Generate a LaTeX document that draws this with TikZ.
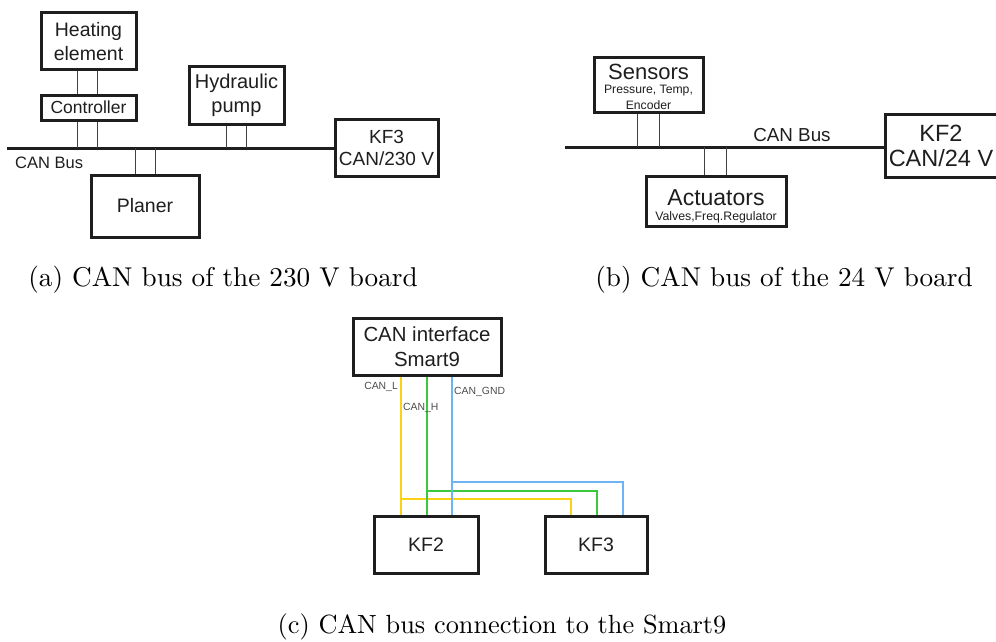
\documentclass[tikz,border=0pt]{standalone}
\usepackage{fontspec}
\usepackage{graphicx}
\newfontfamily\hv{Liberation Sans}
\newcommand\setfs[2]{\fontsize{#1}{#2}\selectfont}
\newcommand\captext[2][2.72]{\scalebox{#1}{\setfs{10}{12}#2}}
\definecolor{canyellow}{RGB}{250,212,20}
\definecolor{cangreen}{RGB}{60,200,60}
\definecolor{canblue}{RGB}{110,180,245}
\definecolor{ink}{RGB}{30,30,30}
\tikzset{
  box/.style={draw=ink, line width=3pt, inner sep=0pt, align=center, text=ink, font=\hv},
  lbl/.style={inner sep=0pt, text=ink, font=\hv},
  wire/.style={line width=0.9pt, draw=black!75},
  busline/.style={line width=3pt, draw=ink},
  canl/.style={line width=1.2pt, draw=canyellow},
  canh/.style={line width=1.2pt, draw=cangreen},
  cangnd/.style={line width=1.2pt, draw=canblue},
  sig/.style={inner sep=0pt, text=black!70, font=\hv\setfs{10.4}{12}},
  caption/.style={inner sep=0pt}
}
\begin{document}
\begin{tikzpicture}[x=1pt,y=-1pt]
\useasboundingbox (0,0) rectangle (996,642);
\clip (0,0) rectangle (996,642);

% ---------- (a) 230 V board ----------
\node[box, minimum width=95, minimum height=57, font=\hv\setfs{19.5}{24}] (heat) at (88.5,41.5) {Heating\\element};
\node[box, minimum width=95, minimum height=25, font=\hv\setfs{17.5}{20}] (ctrl) at (88.5,107.5) {Controller};
\node[box, minimum width=108, minimum height=62, font=\hv\setfs{19.5}{24}] (planer) at (145,206) {Planer};
\node[box, minimum width=95, minimum height=57, font=\hv\setfs{20}{24}] (pump) at (236.5,95.5) {Hydraulic\\pump};
\node[box, minimum width=103, minimum height=57, font=\hv\setfs{19}{22}] (kf3a) at (386.5,147.5) {KF3\\CAN/230 V};
\coordinate (busA) at (7,148);
\draw[busline] (busA) -- (busA -| kf3a.west);
\node[lbl, anchor=west, font=\hv\setfs{16.5}{18}] (busAlbl) at (15,163) {CAN Bus};

\draw[wire] ([xshift=-11.5pt]heat.south) -- ([xshift=-11.5pt]ctrl.north);
\draw[wire] ([xshift=8.5pt]heat.south) -- ([xshift=8.5pt]ctrl.north);
\draw[wire] ([xshift=-11.5pt]ctrl.south) -- ([xshift=-11.5pt]ctrl.south |- busA);
\draw[wire] ([xshift=8.5pt]ctrl.south) -- ([xshift=8.5pt]ctrl.south |- busA);
\draw[wire] ([xshift=-10pt]planer.north) -- ([xshift=-10pt]planer.north |- busA);
\draw[wire] ([xshift=10pt]planer.north) -- ([xshift=10pt]planer.north |- busA);
\draw[wire] ([xshift=-10.5pt]pump.south) -- ([xshift=-10.5pt]pump.south |- busA);
\draw[wire] ([xshift=9.5pt]pump.south) -- ([xshift=9.5pt]pump.south |- busA);

\node[caption] (capa) at (223,280) {\captext{(a) CAN bus of the 230 V board}};

% ---------- (b) 24 V board ----------
\node[box, minimum width=109, minimum height=54] (sens) at (648.5,85) {};
\node[lbl, font=\hv\setfs{22}{24}] (sensT) at (648.5,72) {Sensors};
\node[lbl, font=\hv\setfs{12.2}{14}] (sensS1) at (648.5,91) {Pressure, Temp,};
\node[lbl, font=\hv\setfs{12.2}{14}] (sensS2) at (648.5,105) {Encoder};

\node[box, minimum width=140, minimum height=50] (act) at (716,201) {};
\node[lbl, font=\hv\setfs{23}{25}] (actT) at (716,198) {Actuators};
\node[lbl, font=\hv\setfs{12.3}{14}] (actS) at (716,217) {Valves,Freq.Regulator};

\node[box, minimum width=112, minimum height=63, font=\hv\setfs{23.5}{25}] (kf2b) at (941,145.5) {KF2\\CAN/24 V};
\coordinate (busB) at (565,147);
\draw[busline] (busB) -- (busB -| kf2b.west);
\node[lbl, font=\hv\setfs{18.8}{20}] (busBlbl) at (792,135) {CAN Bus};

\draw[wire] ([xshift=-11.5pt]sens.south) -- ([xshift=-11.5pt]sens.south |- busB);
\draw[wire] ([xshift=10.5pt]sens.south) -- ([xshift=10.5pt]sens.south |- busB);
\draw[wire] ([xshift=-12pt]act.north) -- ([xshift=-12pt]act.north |- busB);
\draw[wire] ([xshift=10pt]act.north) -- ([xshift=10pt]act.north |- busB);

\node[caption] (capb) at (784,280) {\captext{(b) CAN bus of the 24 V board}};

% ---------- (c) Smart9 connection ----------
\node[box, minimum width=148, minimum height=57, font=\hv\setfs{20.4}{25}] (smart) at (427,346.5) {CAN interface\\Smart9};
\node[box, minimum width=104, minimum height=57, font=\hv\setfs{19.5}{22}] (kf2c) at (426,544.5) {KF2};
\node[box, minimum width=102, minimum height=57, font=\hv\setfs{19.5}{22}] (kf3c) at (596,544.5) {KF3};

\coordinate (ljoin) at (401,499);
\coordinate (hjoin) at (427,491);
\coordinate (gjoin) at (452,482);

% CAN_L
\draw[canl] (smart.south -| ljoin) -- (kf2c.north -| ljoin);
\draw[canl] (ljoin) -| ([xshift=-25pt]kf3c.north);
% CAN_H
\draw[canh] (smart.south -| hjoin) -- (kf2c.north -| hjoin);
\draw[canh] (hjoin) -| ([xshift=1pt]kf3c.north);
% CAN_GND
\draw[cangnd] (smart.south -| gjoin) -- (kf2c.north -| gjoin);
\draw[cangnd] (gjoin) -| ([xshift=27pt]kf3c.north);

\node[sig, anchor=east] (lblL) at (398,387) {CAN\_L};
\node[sig, anchor=west] (lblH) at (403,408) {CAN\_H};
\node[sig, anchor=west] (lblG) at (454,392) {CAN\_GND};

\node[caption] (capc) at (502,627) {\captext[2.63]{(c) CAN bus connection to the Smart9}};
\end{tikzpicture}
\end{document}
